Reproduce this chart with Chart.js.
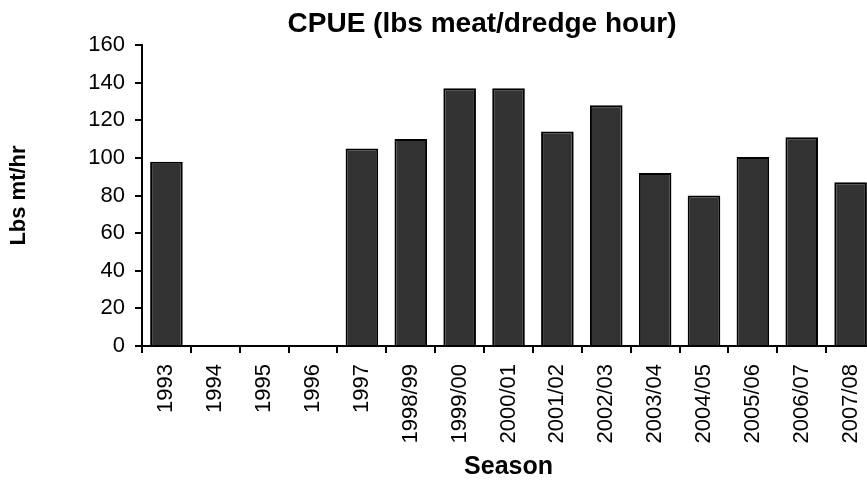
<!DOCTYPE html>
<html>
<head>
<meta charset="utf-8">
<script src="https://cdn.jsdelivr.net/npm/chart.js@4/dist/chart.umd.min.js"></script>
<style>
  html, body { margin: 0; padding: 0; background: #fff; overflow: hidden; }
  #wrap { width: 888px; height: 480px; }
</style>
</head>
<body>
<div id="wrap"><canvas id="cpue"></canvas></div>
<script>
// data
let seasons = ["1993", "1994", "1995", "1996", "1997", "1998/99", "1999/00", "2000/01",
    "2001/02", "2002/03", "2003/04", "2004/05", "2005/06", "2006/07", "2007/08"]
let cpue = [98, null, null, null, 105, 110, 137, 137, 114, 128, 92, 80, 100.5, 111, 87]
let yTicks = [0, 20, 40, 60, 80, 100, 120, 140, 160]

let titleText = "CPUE (lbs meat/dredge hour)"

// title is centred a bit left of the plot, so draw it by hand
let titlePlugin = {
    id: "topTitle",
    afterDraw(chart) {
        let ctx = chart.ctx
        ctx.save()
        ctx.font = "bold 28px 'Liberation Sans', Arial, sans-serif"
        ctx.fillStyle = "#000"
        ctx.textAlign = "center"
        ctx.textBaseline = "alphabetic"
        ctx.fillText(titleText, 482, 32)
        ctx.restore()
    }
}

let tickFont = { family: "'Liberation Sans', Arial, sans-serif", size: 22 }

let barChart = new Chart(document.getElementById("cpue"), {
    type: "bar",
    data: {
        labels: seasons,
        datasets: [{
            data: cpue,
            backgroundColor: "#333333",
            borderColor: "#000000",
            borderWidth: 2,
            barPercentage: 1,
            categoryPercentage: 0.667
        }]
    },
    options: {
        responsive: true,
        maintainAspectRatio: false,
        animation: false,
        layout: {
            padding: { top: 45, right: 0, left: 0, bottom: 0 }
        },
        plugins: {
            legend: { display: false },
            title: { display: false },
            tooltip: { enabled: false }
        },
        scales: {
            x: {
                grid: {
                    offset: true,
                    drawOnChartArea: false,
                    color: "#000",
                    tickLength: 7,
                    lineWidth: 2
                },
                border: { color: "#000", width: 2 },
                ticks: {
                    color: "#000",
                    font: tickFont,
                    minRotation: 90,
                    maxRotation: 90,
                    autoSkip: false,
                    padding: 11
                },
                title: {
                    display: true,
                    text: "Season",
                    color: "#000",
                    font: { family: "'Liberation Sans', Arial, sans-serif", size: 25, weight: "bold", lineHeight: 1 },
                    padding: { top: 0, bottom: 0 }
                },
                afterFit: s => { s.height = 134 }
            },
            y: {
                min: 0,
                max: 160,
                afterBuildTicks: s => { s.ticks = yTicks.map(v => ({ value: v })) },
                grid: {
                    drawOnChartArea: false,
                    color: "#000",
                    tickLength: 7,
                    lineWidth: 2
                },
                border: { color: "#000", width: 2 },
                ticks: {
                    color: "#000",
                    font: tickFont,
                    padding: 10
                },
                title: {
                    display: true,
                    text: "Lbs mt/hr",
                    color: "#000",
                    font: { family: "'Liberation Sans', Arial, sans-serif", size: 22, weight: "bold" },
                    padding: { top: 6, bottom: 0 }
                },
                afterFit: s => { s.width = 142 }
            }
        }
    },
    plugins: [titlePlugin]
})
</script>
</body>
</html>
